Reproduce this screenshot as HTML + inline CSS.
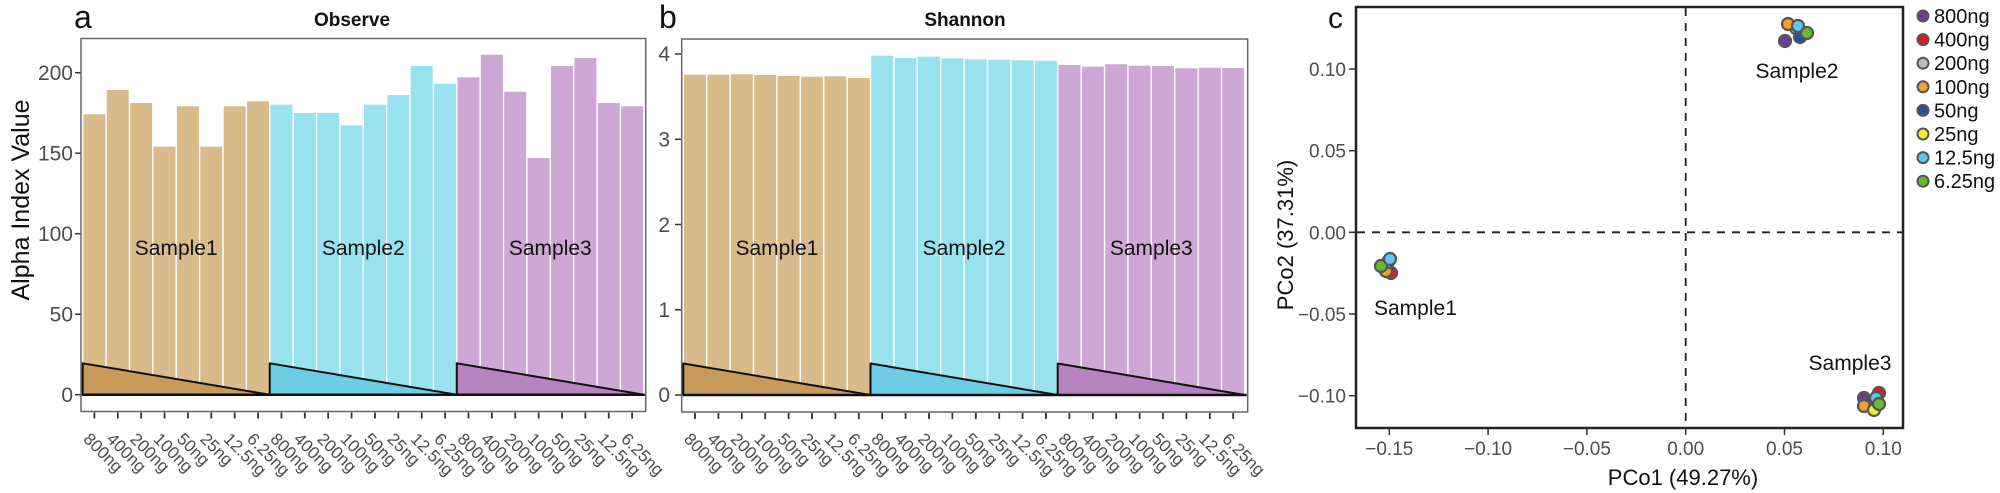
<!DOCTYPE html>
<html><head><meta charset="utf-8"><style>
html,body{margin:0;padding:0;background:#fff;}
svg{display:block;font-family:"Liberation Sans",sans-serif;}
.tk{font-size:21px;fill:#4d4d4d;}
.xl{font-size:17px;fill:#4d4d4d;}
.sl{font-size:21px;fill:#111;}
</style></head><body>
<svg width="2000" height="493" viewBox="0 0 2000 493" xmlns="http://www.w3.org/2000/svg">
<g id="A"></g>
<!-- Panel letters and titles -->
<text x="74" y="28" font-size="32" fill="#111">a</text>
<text x="352" y="26" font-size="19" font-weight="bold" text-anchor="middle" fill="#111">Observe</text>
<text x="659" y="28" font-size="32" fill="#111">b</text>
<text x="965" y="26" font-size="19" font-weight="bold" text-anchor="middle" fill="#111">Shannon</text>
<text x="1328" y="28" font-size="30" fill="#111">c</text>

<!-- Panel a -->
<text transform="translate(29,200) rotate(-90)" font-size="25" text-anchor="middle" fill="#111">Alpha Index Value</text>
<g class="tk" text-anchor="end">
<text x="73" y="402">0</text><text x="73" y="321.5">50</text><text x="73" y="241">100</text><text x="73" y="160.5">150</text><text x="73" y="80">200</text>
</g>
<g stroke="#333" stroke-width="1.5">
<line x1="75" y1="394.7" x2="81" y2="394.7"/><line x1="75" y1="314.2" x2="81" y2="314.2"/><line x1="75" y1="233.7" x2="81" y2="233.7"/><line x1="75" y1="153.2" x2="81" y2="153.2"/><line x1="75" y1="72.7" x2="81" y2="72.7"/>
</g>
<g id="barsA"></g>

<!-- Panel b -->
<g class="tk" text-anchor="end">
<text x="670" y="402">0</text><text x="670" y="317">1</text><text x="670" y="232">2</text><text x="670" y="146.5">3</text><text x="670" y="61">4</text>
</g>
<g stroke="#333" stroke-width="1.5">
<line x1="675" y1="395" x2="682" y2="395"/><line x1="675" y1="309.8" x2="682" y2="309.8"/><line x1="675" y1="224.5" x2="682" y2="224.5"/><line x1="675" y1="139.3" x2="682" y2="139.3"/><line x1="675" y1="54" x2="682" y2="54"/>
</g>
<g id="barsB"></g>

<!-- Panel c -->
<rect x="1356" y="7" width="547" height="421" fill="none" stroke="#222" stroke-width="2.5"/>
<line x1="1685.7" y1="8" x2="1685.7" y2="427" stroke="#222" stroke-width="1.8" stroke-dasharray="8,7"/>
<line x1="1357" y1="232.3" x2="1902" y2="232.3" stroke="#222" stroke-width="1.8" stroke-dasharray="8,7"/>
<g stroke="#333" stroke-width="1.5">
<line x1="1389.3" y1="429" x2="1389.3" y2="435"/><line x1="1488.1" y1="429" x2="1488.1" y2="435"/><line x1="1586.9" y1="429" x2="1586.9" y2="435"/><line x1="1685.7" y1="429" x2="1685.7" y2="435"/><line x1="1784.5" y1="429" x2="1784.5" y2="435"/><line x1="1883.3" y1="429" x2="1883.3" y2="435"/>
<line x1="1349" y1="69" x2="1355" y2="69"/><line x1="1349" y1="150.7" x2="1355" y2="150.7"/><line x1="1349" y1="232.3" x2="1355" y2="232.3"/><line x1="1349" y1="314" x2="1355" y2="314"/><line x1="1349" y1="395.7" x2="1355" y2="395.7"/>
</g>
<g class="tk" font-size="19" style="font-size:19px" text-anchor="middle">
<text x="1389.3" y="455">−0.15</text><text x="1488.1" y="455">−0.10</text><text x="1586.9" y="455">−0.05</text><text x="1685.7" y="455">0.00</text><text x="1784.5" y="455">0.05</text><text x="1883.3" y="455">0.10</text>
</g>
<g class="tk" style="font-size:19px" text-anchor="end">
<text x="1346" y="76">0.10</text><text x="1346" y="157.7">0.05</text><text x="1346" y="239.3">0.00</text><text x="1346" y="321">−0.05</text><text x="1346" y="402.7">−0.10</text>
</g>
<text x="1683" y="485" font-size="22" text-anchor="middle" fill="#111">PCo1 (49.27%)</text>
<text transform="translate(1293,235) rotate(-90)" font-size="22" text-anchor="middle" fill="#111">PCo2 (37.31%)</text>
<g class="sl">
<text x="1374" y="315">Sample1</text>
<text x="1797" y="78" text-anchor="middle">Sample2</text>
<text x="1850" y="370" text-anchor="middle">Sample3</text>
</g>
<g stroke="#555" stroke-width="2.2">
<circle cx="1391" cy="273" r="6" fill="#e31a1c"/>
<circle cx="1386" cy="271" r="6" fill="#f0a030"/>
<circle cx="1388" cy="262" r="6" fill="#bdbdbd"/>
<circle cx="1381" cy="266" r="6" fill="#66bb33"/>
<circle cx="1390" cy="259" r="6" fill="#5cc8f0"/>
<circle cx="1796" cy="28" r="6" fill="#bdbdbd"/>
<circle cx="1788" cy="24" r="6" fill="#f0a030"/>
<circle cx="1800" cy="37" r="6" fill="#2b4fa0"/>
<circle cx="1798" cy="26" r="6" fill="#5cc8f0"/>
<circle cx="1807" cy="33" r="6" fill="#66bb33"/>
<circle cx="1785" cy="41" r="6" fill="#6a3d9a"/>
<circle cx="1879" cy="393" r="6" fill="#e31a1c"/>
<circle cx="1864" cy="398" r="6" fill="#6a3d9a"/>
<circle cx="1870" cy="402" r="6" fill="#2b4fa0"/>
<circle cx="1864" cy="406" r="6" fill="#f0a030"/>
<circle cx="1874" cy="410" r="6" fill="#f0f030"/>
<circle cx="1876" cy="398" r="6" fill="#5cc8f0"/>
<circle cx="1879" cy="404" r="6" fill="#66bb33"/>
</g>
<g id="legend"></g>
</svg>
<script>
(function(){
var NS="http://www.w3.org/2000/svg";
function el(p,t,a,txt){var e=document.createElementNS(NS,t);for(var k in a)e.setAttribute(k,a[k]);if(txt!=null)e.textContent=txt;p.appendChild(e);return e;}
var labs=["800ng","400ng","200ng","100ng","50ng","25ng","12.5ng","6.25ng"];
var bar=["#D8BA8B","#98E1EE","#CDA8D4"], tri=["#C99B5A","#6DCDE5","#B682C0"];
function panel(g,L,R,T,B,x0,slot,zeroY,triY,tops){
  el(g,"rect",{x:L,y:T,width:R-L,height:B-T,fill:"#fff",stroke:"#666","stroke-width":1.5});
  for(var s=0;s<3;s++){
    for(var i=0;i<8;i++){var k=s*8+i;var x=x0+k*slot;
      el(g,"rect",{x:x+0.7,y:tops[k],width:slot-1.4,height:zeroY-tops[k],fill:bar[s]});}
    var gx=x0+s*8*slot, ge=gx+8*slot;
    el(g,"polygon",{points:gx+","+zeroY+" "+gx+","+triY+" "+ge+","+zeroY,fill:tri[s],stroke:"#111","stroke-width":2,"stroke-linejoin":"round"});
  }
  el(g,"line",{x1:L+1,y1:zeroY,x2:R-1,y2:zeroY,stroke:"#111","stroke-width":2.5});
  for(var k=0;k<24;k++){var tx=x0+(k+0.5)*slot;
    el(g,"line",{x1:tx,y1:B+1,x2:tx,y2:B+7,stroke:"#333","stroke-width":1.8});
    el(g,"text",{"class":"xl",transform:"translate("+(tx-12)+",440) rotate(45)"},labs[k%8]);}
  var names=["Sample1","Sample2","Sample3"];
  for(var s=0;s<3;s++){el(g,"text",{"class":"sl",x:x0+(s*8+4)*slot,y:255,"text-anchor":"middle"},names[s]);}
}
var topsA=[114.3,90,103,146.7,106.3,146.7,106.3,101.3, 104.7,113,113,125.3,104.7,95,66,83.7, 77.3,54.7,91.7,158,66,58,103,106.3];
var topsB=[74.7,74.7,74.3,75,76,76.7,76.3,78, 55.7,58,56.7,58.3,59.3,59.7,60.3,60.7, 65,66.7,64.3,65.7,66,68.3,67.7,68];
panel(document.getElementById("barsA"),81,645.7,38.5,411.5,82.7,23.38,394.7,363.3,topsA);
panel(document.getElementById("barsB"),681.7,1247.7,39,412,683.3,23.4,395,363.5,topsB);
var lg=document.getElementById("legend");
var cols=["#6a3d9a","#e31a1c","#bdbdbd","#f0a030","#2b4fa0","#f0f030","#5cc8f0","#66bb33"];
for(var i=0;i<8;i++){var y=16+i*23.6;
  el(lg,"circle",{cx:1923,cy:y,r:5.5,fill:cols[i],stroke:"#555","stroke-width":2});
  el(lg,"text",{x:1934,y:y+7,"font-size":20,fill:"#111"},labs[i]);}
})();
</script>
</body></html>
